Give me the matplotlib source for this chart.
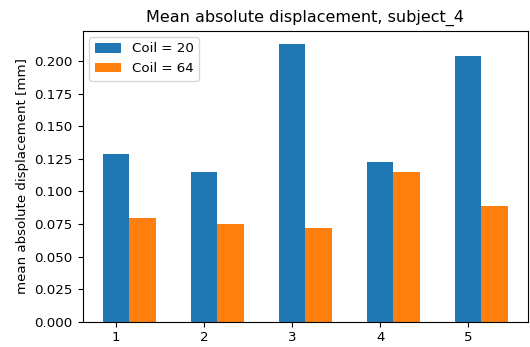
import matplotlib
matplotlib.use("Agg")
import matplotlib.pyplot as plt
import numpy as np

runs = [1, 2, 3, 4, 5]
coil20 = [0.1287, 0.1152, 0.2128, 0.1223, 0.2036]
coil64 = [0.0798, 0.0749, 0.0716, 0.1152, 0.0885]
labels = ["Coil = 20", "Coil = 64"]

plt.rcParams['font.size'] = 9.6
fig = plt.figure(figsize=(5.30, 3.47), dpi=100)
ax = fig.add_axes([82.5/530, 1 - 321.7/347, (528 - 82.5)/530, (321.7 - 30.5)/347])
x = np.array(runs, dtype=float)
w = 0.3
ax.bar(x, coil20, w, label=labels[0], color='#1f77b4')
ax.bar(x + w, coil64, w, label=labels[1], color='#ff7f0e')
ax.set_xticks(runs)
ax.set_ylabel("mean absolute displacement [mm]")
ax.set_title("Mean absolute displacement, subject_4", fontsize=11.5)
ax.legend(loc='upper left')
fig.savefig("out.png", dpi=100)
